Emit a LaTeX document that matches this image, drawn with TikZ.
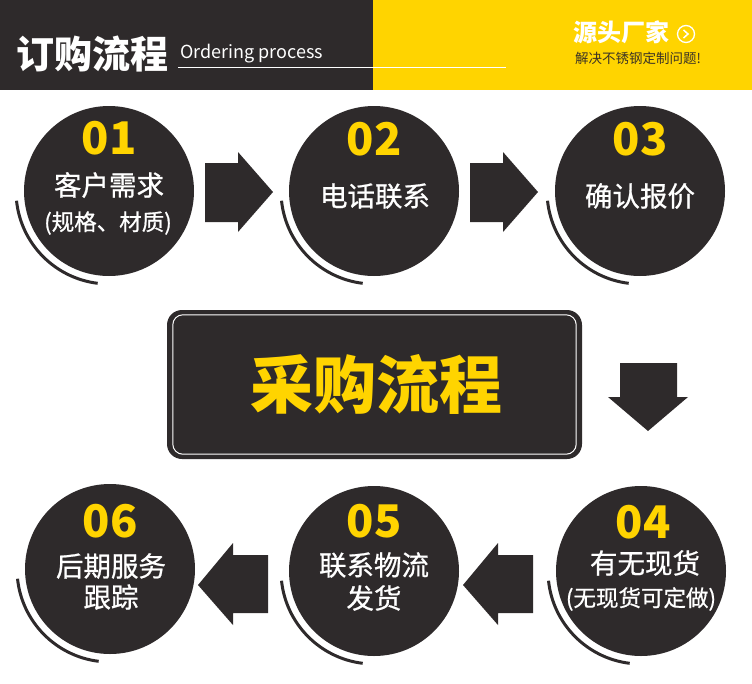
\documentclass[tikz,border=0pt]{standalone}
\usepackage{fontspec}
\setmainfont{Noto Sans CJK SC}
\newfontfamily\medfont[FakeBold=0.8]{Noto Sans CJK SC}
\usetikzlibrary{calc}
\definecolor{dk}{HTML}{2E2A2B}
\definecolor{yl}{HTML}{FFD400}
\definecolor{slog}{HTML}{3B3326}
\begin{document}
\begin{tikzpicture}[x=1pt,y=-1pt,
  circ/.style={circle, fill=dk, minimum size=170, inner sep=0},
  num/.style={text=yl, font=\fontsize{45}{45}\selectfont\bfseries, inner sep=0},
  lbl/.style={text=white, font=\medfont\fontsize{27.5}{28}\selectfont, inner sep=0},
  sublbl/.style={text=white, font=\medfont\fontsize{22.5}{23}\selectfont, inner sep=0},
  ring/.style={draw=dk, line width=3},
  blockarrow/.style={fill=dk}
]
\useasboundingbox (0,0) rectangle (752,683);
% header
\fill[dk] (0,0) rectangle (373,90);
\fill[yl] (373,0) rectangle (752,90);
\node[text=white, font=\fontsize{38}{38}\selectfont\bfseries, anchor=west, inner sep=0] (title) at (16,54) {订购流程};
\node[text=white, font=\fontsize{18}{18}\selectfont, anchor=base west, inner sep=0] (sub) at (180,58) {Ordering process};
\coordinate (lineL) at (178,67);
\coordinate (lineR) at (506,67);
\draw[white, line width=1] (lineL) -- (lineR);
\node[text=white, font=\fontsize{24}{24}\selectfont\bfseries, anchor=west, inner sep=0] (brand) at (573,32) {源头厂家};
\node[circle, draw=white, line width=1.3, minimum size=17, inner sep=0] (icon) at (686,34) {};
\draw[white, line width=1.5] ($(icon.center)+(-2.5,-4)$) -- ($(icon.center)+(2,0)$) -- ($(icon.center)+(-2.5,4)$);
\node[text=slog, font=\fontsize{13.5}{14}\selectfont, anchor=west, inner sep=0] (slogan) at (575,58) {解决不锈钢定制问题!};

% circles
\node[circ] (c1) at (109,191) {};
\node[circ] (c2) at (374,191) {};
\node[circ] (c3) at (640,191) {};
\node[circ] (c4) at (641,571) {};
\node[circ] (c5) at (374,571) {};
\node[circ] (c6) at (110,569) {};
\foreach \c in {c1,c2,c3,c4,c5,c6}{
  \draw[ring] ($(\c.center)+(174:93)$) arc[start angle=174, end angle=97, radius=93];
}

% texts
\node[num] (n1) at (109,138) {01};
\node[lbl] (t1) at (109,185) {客户需求};
\node[sublbl] (s1) at (108,223) {(规格、材质)};
\node[num] (n2) at (374,139) {02};
\node[lbl] (t2) at (375,196) {电话联系};
\node[num] (n3) at (640,139) {03};
\node[lbl] (t3) at (640,196) {确认报价};
\node[num] (n4) at (643,522) {04};
\node[lbl] (t4) at (645,563) {有无现货};
\node[sublbl] (s4) at (641,599) {(无现货可定做)};
\node[num] (n5) at (374,521) {05};
\node[lbl] (t5) at (374,565) {联系物流};
\node[lbl] (u5) at (374,598) {发货};
\node[num] (n6) at (110,521) {06};
\node[lbl] (t6) at (111,566) {后期服务};
\node[lbl] (u6) at (111,597) {跟踪};

% middle box
\node[fill=dk, rounded corners=15, minimum width=415, minimum height=149, inner sep=0] (box) at (374.5,384.5) {};
\draw[white, line width=1, rounded corners=10] ($(box.north west)+(6,5)$) rectangle ($(box.south east)+(-6,-5)$);
\node[text=yl, font=\fontsize{63}{63}\selectfont\bfseries, inner sep=0] (boxt) at (376,384) {采购流程};

% block arrows
\fill[blockarrow] (205,163)--(238,163)--(238,152)--(273,192)--(238,232)--(238,222)--(205,222)--cycle;
\fill[blockarrow] (470,163)--(503,163)--(503,152)--(538,192)--(503,232)--(503,222)--(470,222)--cycle;
\fill[blockarrow] (620,363)--(677,363)--(677,397)--(688,397)--(648,431)--(608,397)--(620,397)--cycle;
\fill[blockarrow] (533,555)--(498,555)--(498,543)--(463,585)--(498,625)--(498,613)--(533,613)--cycle;
\fill[blockarrow] (268,555)--(233,555)--(233,543)--(198,585)--(233,625)--(233,613)--(268,613)--cycle;
\end{tikzpicture}
\end{document}
